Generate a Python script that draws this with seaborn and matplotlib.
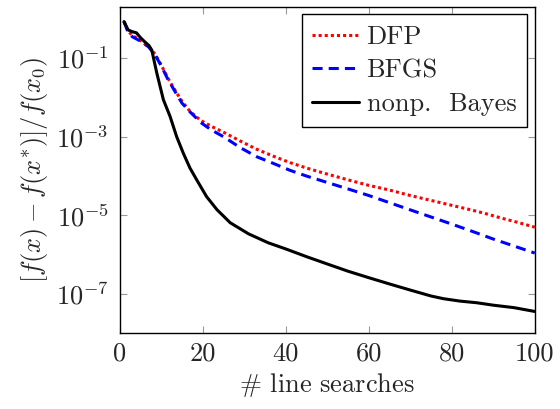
import matplotlib
matplotlib.use('Agg')
import matplotlib.pyplot as plt
import matplotlib.ticker as mticker
import seaborn as sns

# values (x = # line searches, y = relative gap)
dfp_x = [1, 2, 3, 5, 7, 8.5, 10, 11.5, 13.5, 15, 17, 19.5, 22, 25, 29, 33, 37, 41, 45, 49,
         55, 60, 65, 70, 75, 80, 85, 88, 92, 96, 100]
dfp_y = [0.85, 0.48, 0.38, 0.28, 0.19, 0.126, 6.6e-2, 3.2e-2, 1.4e-2, 7.9e-3, 4.3e-3, 2.6e-3,
         1.85e-3, 1.3e-3, 7.8e-4, 4.8e-4, 3.2e-4, 2.2e-4, 1.6e-4, 1.2e-4,
         8.0e-5, 5.8e-5, 4.4e-5, 3.2e-5, 2.4e-5, 1.8e-5, 1.35e-5, 1.12e-5, 8.5e-6, 6.6e-6, 5.0e-6]

bfgs_x = [1, 2, 3, 5, 7, 8.5, 10, 11.5, 13.5, 15, 17, 19.5, 22, 25, 29, 33, 37, 41, 45, 49,
          55, 60, 65, 70, 75, 80, 85, 90, 95, 100]
bfgs_y = [0.85, 0.45, 0.35, 0.27, 0.19, 0.12, 6.3e-2, 3.0e-2, 1.3e-2, 7.1e-3, 4.2e-3, 2.3e-3,
          1.5e-3, 1.0e-3, 5.3e-4, 3.1e-4, 2.1e-4, 1.4e-4, 1.0e-4, 7.4e-5,
          4.7e-5, 3.2e-5, 2.1e-5, 1.38e-5, 9.1e-6, 6.0e-6, 3.9e-6, 2.5e-6, 1.66e-6, 1.1e-6]

bayes_x = [1, 2, 3, 4, 5, 6, 7, 7.7, 8.9, 10.5, 12.1, 13.7, 15.3, 16.9, 18.5, 20.9, 23.4,
           26.6, 31, 35.8, 40, 45, 50, 55, 60, 65, 70, 75, 78, 82, 86, 90, 95, 100]
bayes_y = [0.85, 0.52, 0.47, 0.44, 0.33, 0.26, 0.21, 0.16, 4.2e-2, 8.7e-3, 3.3e-3, 1.0e-3,
           3.8e-4, 1.6e-4, 8.1e-5, 3.0e-5, 1.4e-5, 6.5e-6, 3.4e-6, 2.0e-6, 1.4e-6, 8.9e-7,
           5.8e-7, 3.8e-7, 2.6e-7, 1.8e-7, 1.26e-7, 8.9e-8, 7.6e-8, 6.6e-8, 6.0e-8, 5.2e-8,
           4.5e-8, 3.6e-8]

xticks = [0, 20, 40, 60, 80, 100]
yticks = [1e-1, 1e-3, 1e-5, 1e-7]
ytick_labels = [r'$10^{-1}$', r'$10^{-3}$', r'$10^{-5}$', r'$10^{-7}$']

sns.set_style('ticks')
plt.rcParams['font.family'] = 'serif'
plt.rcParams['font.serif'] = ['cmr10']
plt.rcParams['mathtext.fontset'] = 'cm'
plt.rcParams['axes.unicode_minus'] = False

fs = 19
fig = plt.figure(figsize=(5.6, 4.09), dpi=100)
ax = fig.add_axes([0.214, 0.185, 0.741, 0.799])

lw = 2.2
sns.lineplot(x=dfp_x, y=dfp_y, ax=ax, color='red', lw=lw, linestyle=(0, (1, 1)),
             label='DFP', estimator=None)
sns.lineplot(x=bfgs_x, y=bfgs_y, ax=ax, color='blue', lw=lw, linestyle=(0, (3.3, 2)),
             label='BFGS', estimator=None)
sns.lineplot(x=bayes_x, y=bayes_y, ax=ax, color='black', lw=lw,
             label='nonp.  Bayes', estimator=None)

ax.set_yscale('log')
ax.set_xlim(0, 100)
ax.set_ylim(1e-8, 2.05)
ax.set_xticks(xticks)
ax.set_xticklabels([str(t) for t in xticks])
ax.yaxis.set_major_locator(mticker.FixedLocator(yticks))
ax.yaxis.set_major_formatter(mticker.FixedFormatter(ytick_labels))
ax.yaxis.set_minor_locator(mticker.NullLocator())

ax.tick_params(direction='in', length=5, width=0.8, color='0.6', labelsize=fs,
               top=True, right=True)
ax.tick_params(axis='x', pad=6)
ax.tick_params(axis='y', pad=8)
for s in ax.spines.values():
    s.set_visible(True)
    s.set_linewidth(1.0)
    s.set_color('black')

ax.set_xlabel(r'$\#$ line searches', fontsize=fs, labelpad=4)
ax.set_ylabel(r'$[f(x) - f(x^{*})]/f(x_0)$', fontsize=fs, labelpad=4)

leg = ax.legend(loc='upper right', fontsize=fs, frameon=True, fancybox=False,
                handlelength=1.75, handletextpad=0.3, borderpad=0.4, labelspacing=0.38,
                borderaxespad=0.3)
leg.get_frame().set_edgecolor('black')
leg.get_frame().set_linewidth(1.0)
leg.get_frame().set_alpha(1)

fig.savefig('out.png', dpi=100)
